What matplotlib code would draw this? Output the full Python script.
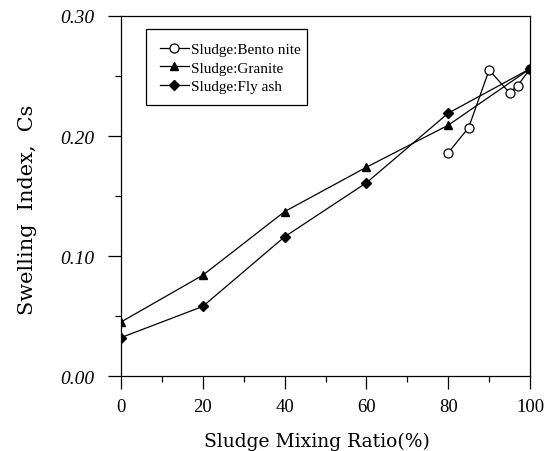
import matplotlib
matplotlib.use('Agg')
import matplotlib.pyplot as plt
from matplotlib.patches import Rectangle
from matplotlib.ticker import MultipleLocator, FixedLocator

plt.rcParams['font.family'] = 'Liberation Serif'

# Swelling index vs sludge mixing ratio for each admixture
ratio_bento = [80, 85, 90, 95, 97, 100]
cs_bento = [0.186, 0.207, 0.255, 0.236, 0.242, 0.256]

ratio_granite = [0, 20, 40, 60, 80, 100]
cs_granite = [0.045, 0.084, 0.137, 0.174, 0.209, 0.256]

ratio_flyash = [0, 20, 40, 60, 80, 100]
cs_flyash = [0.032, 0.058, 0.116, 0.161, 0.219, 0.256]

x_ticks = [0, 20, 40, 60, 80, 100]
y_ticks = [0.00, 0.10, 0.20, 0.30]
y_tick_labels = ['0.00', '0.10', '0.20', '0.30']

fig = plt.figure(figsize=(5.51, 4.52), dpi=100)
ax = fig.add_axes([0.2196, 0.1659, 0.7423, 0.7965])

ax.plot(ratio_bento, cs_bento, color='black', lw=0.9, marker='o', ms=6.5,
        mfc='white', mec='black', mew=0.9, label='Sludge:Bento nite', zorder=3)
ax.plot(ratio_granite, cs_granite, color='black', lw=0.9, marker='^', ms=6,
        label='Sludge:Granite', zorder=3)
ax.plot(ratio_flyash, cs_flyash, color='black', lw=0.9, marker='D', ms=5,
        label='Sludge:Fly ash', zorder=3)

ax.set_xlim(0, 100)
ax.set_ylim(0, 0.30)
ax.xaxis.set_major_locator(FixedLocator(x_ticks))
ax.xaxis.set_minor_locator(MultipleLocator(10))
ax.yaxis.set_major_locator(FixedLocator(y_ticks))
ax.yaxis.set_minor_locator(MultipleLocator(0.05))
ax.set_yticklabels(y_tick_labels, fontstyle='italic')

ax.tick_params(which='major', direction='out', length=9.5, width=0.9, labelsize=13.5)
ax.tick_params(axis='x', which='major', pad=6)
ax.tick_params(axis='y', which='major', labelsize=14, pad=10)
ax.tick_params(which='minor', direction='out', length=4, width=0.9)
for s in ax.spines.values():
    s.set_linewidth(0.9)

ax.set_xlabel('Sludge Mixing Ratio(%)', fontsize=13.5, family='DejaVu Serif')
ax.set_ylabel('Swelling  Index,  Cs', fontsize=15, family='DejaVu Serif')
ax.xaxis.label.set_verticalalignment('baseline')
ax.xaxis.set_label_coords(0.478, -0.194)
ax.yaxis.set_label_coords(-0.205, 0.464)

# legend text without its own frame; box drawn separately to keep it snug
leg = ax.legend(loc='upper left', bbox_to_anchor=(0.061, 0.964), borderaxespad=0,
                frameon=False, fontsize=11,
                handlelength=1.9, handletextpad=0.15, borderpad=0.9,
                labelspacing=0.3)
ax.add_patch(Rectangle((0.061, 0.7528), 0.3938, 0.2111, transform=ax.transAxes,
                       fill=False, edgecolor='black', linewidth=0.9, zorder=4))

fig.savefig('out.png', dpi=100)
